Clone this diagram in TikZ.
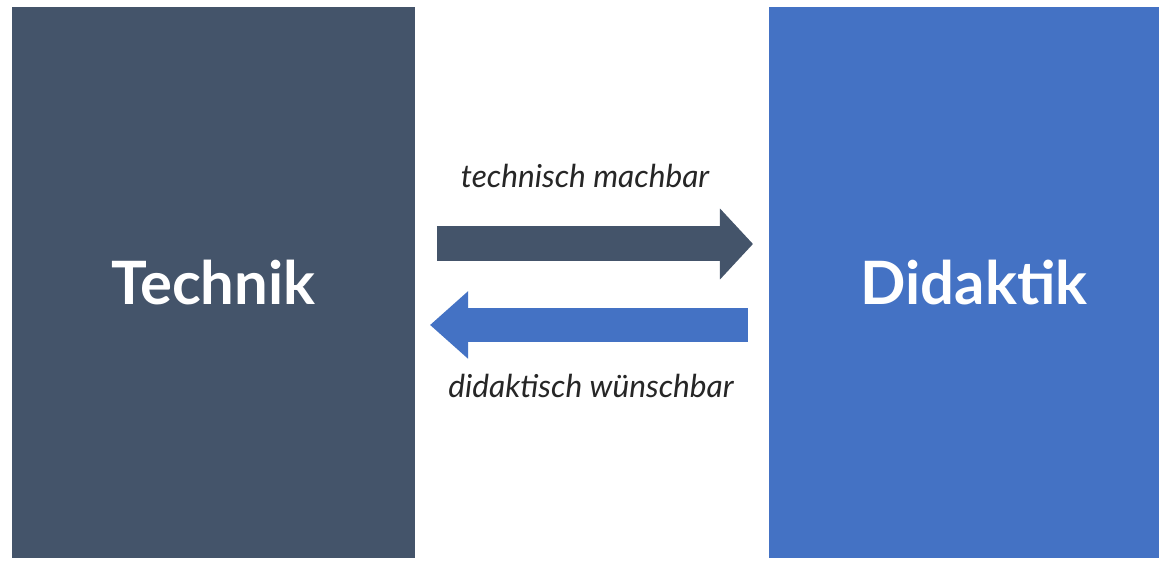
\documentclass[tikz,border=0pt]{standalone}
\usepackage{fontspec}
\setmainfont{Lato}
\usepackage{tikz}
\usetikzlibrary{arrows.meta,positioning}
\definecolor{slate}{HTML}{44546A}
\definecolor{officeblue}{HTML}{4472C4}

\begin{document}
\begin{tikzpicture}[x=0.01cm,y=0.01cm]
    \tikzset{block/.style = {shape=rectangle,minimum height=5.51cm,inner sep=0pt,
        text=white,font=\fontsize{17}{20}\selectfont\bfseries}}
    \tikzset{flow/.style = {line cap=butt}}
    \tikzset{caption/.style = {anchor=base,font=\fontsize{9}{11}\selectfont\itshape,text=black!85}}
    \useasboundingbox[fill=white] (0,0) rectangle (1159,561);
    % blocks
    \node[block,fill=slate,minimum width=4.03cm] (technik) at (213.5,278.5) {Technik};
    \node[block,fill=officeblue,minimum width=3.90cm] (didaktik) at (964,278.5) {\hspace*{0.2cm}Didaktik};
    % arrow ends
    \coordinate (a1) at (437,317);
    \coordinate (b1) at (753,317);
    \coordinate (a2) at (748,236);
    \coordinate (b2) at (430,236);
    % arrows
    \draw[flow,slate,line width=9.96pt,-{Triangle[length=9.39pt,width=19.63pt]}] (a1) -- (b1);
    \draw[flow,officeblue,line width=9.67pt,-{Triangle[length=10.81pt,width=18.49pt]}] (a2) -- (b2);
    % labels
    \node[caption] (machbar) at (585,373) {technisch machbar};
    \node[caption] (wuenschbar) at (591,163) {didaktisch wünschbar};
\end{tikzpicture}
\end{document}
